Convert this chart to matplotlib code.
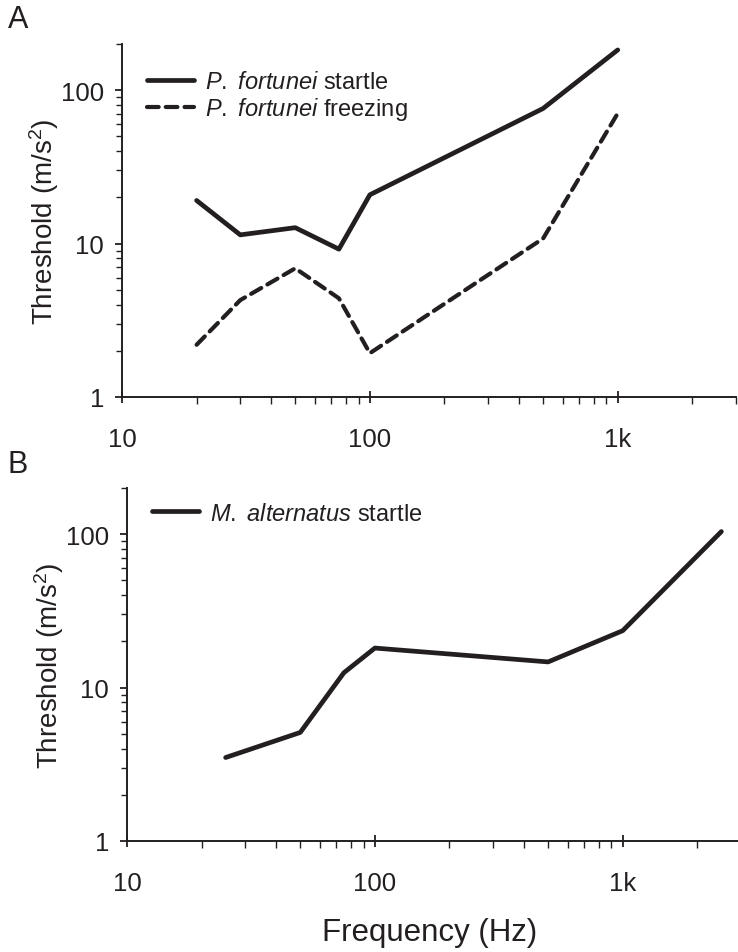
import numpy as np
import matplotlib
matplotlib.use("Agg")
import matplotlib.pyplot as plt
from matplotlib.ticker import LogLocator, FixedLocator, NullFormatter

plt.rcParams['font.family'] = ['Liberation Sans', 'DejaVu Sans']
plt.rcParams['mathtext.fontset'] = 'custom'
plt.rcParams['mathtext.rm'] = 'Liberation Sans'
plt.rcParams['mathtext.it'] = 'Liberation Sans:italic'

# Panel A: P. fortunei
freq_a = [20, 30, 50, 75, 100, 500, 1000]
startle_a = [19.1, 11.4, 12.7, 9.2, 20.8, 76, 183]
freezing_a = [2.19, 4.28, 6.9, 4.4, 1.93, 10.8, 70.6]

# Panel B: M. alternatus
freq_b = [25, 50, 75, 100, 500, 1000, 2500]
startle_b = [3.5, 5.1, 12.5, 18.1, 14.7, 23.5, 104]

ink = '#231f20'

fig = plt.figure(figsize=(7.38, 9.53), dpi=100)
W, H = 738, 953


def make_axes(left, right, top, bottom):
    return fig.add_axes([left / W, 1 - bottom / H, (right - left) / W, (bottom - top) / H])


def style(ax):
    ax.set_xscale('log')
    ax.set_yscale('log')
    ax.set_xlim(10, 3000)
    ax.set_ylim(1, 200)
    for s in ['top', 'right']:
        ax.spines[s].set_visible(False)
    for s in ['left', 'bottom']:
        ax.spines[s].set_linewidth(1.4)
        ax.spines[s].set_color(ink)
    ax.xaxis.set_major_locator(FixedLocator([10, 100, 1000]))
    ax.set_xticklabels(['10', '100', '1k'])
    ax.xaxis.set_minor_locator(LogLocator(base=10, subs=np.arange(2, 10)))
    ax.xaxis.set_minor_formatter(NullFormatter())
    ax.yaxis.set_major_locator(FixedLocator([1, 10, 100]))
    ax.set_yticklabels(['1', '10', '100'])
    ax.yaxis.set_minor_locator(LogLocator(base=10, subs=np.arange(2, 10)))
    ax.yaxis.set_minor_formatter(NullFormatter())
    ax.tick_params(axis='x', which='major', direction='inout', length=9, width=1.3,
                   pad=17, labelsize=18.5, colors=ink)
    ax.tick_params(axis='x', which='minor', direction='out', length=5, width=1.0,
                   colors=ink)
    ax.tick_params(axis='y', which='major', direction='out', length=5, width=1.3,
                   pad=8, labelsize=18.5, colors=ink)
    ax.tick_params(axis='y', which='minor', direction='out', length=4, width=1.0,
                   colors=ink)
    ax.set_ylabel('Threshold (m/s$^2$)', fontsize=20, color=ink, labelpad=0)


ax1 = make_axes(122, 736, 45, 398)
style(ax1)
ax1.plot(freq_a, startle_a, color=ink, lw=3.4, solid_capstyle='round',
         label=r'$\mathit{P.}$ $\mathit{fortunei}$ startle')
ax1.plot(freq_a, freezing_a, color=ink, lw=3.0, dashes=(2.8, 1.7),
         dash_capstyle='round', label=r'$\mathit{P.}$ $\mathit{fortunei}$ freezing')
ax1.legend(loc='upper left', bbox_to_anchor=(0.025, 0.95), frameon=False, fontsize=17,
           handlelength=2.0, handletextpad=0.45, labelspacing=0.1, borderaxespad=0,
           labelcolor=ink)

ax2 = make_axes(127, 741, 489, 842)
style(ax2)
ax2.plot(freq_b, startle_b, color=ink, lw=3.4, solid_capstyle='round',
         label=r'$\mathit{M.}$ $\mathit{alternatus}$ startle')
ax2.legend(loc='upper left', bbox_to_anchor=(0.025, 0.985), frameon=False, fontsize=17,
           handlelength=2.0, handletextpad=0.45, borderaxespad=0, labelcolor=ink)

fig.text(8 / W, 1 - 20 / H, 'A', fontsize=22, color=ink, va='center', ha='left')
fig.text(8 / W, 1 - 465 / H, 'B', fontsize=22, color=ink, va='center', ha='left')
fig.text(430 / W, 1 - 933 / H, 'Frequency (Hz)', fontsize=22.5, color=ink,
         ha='center', va='center')

fig.savefig('out.png', dpi=100)
